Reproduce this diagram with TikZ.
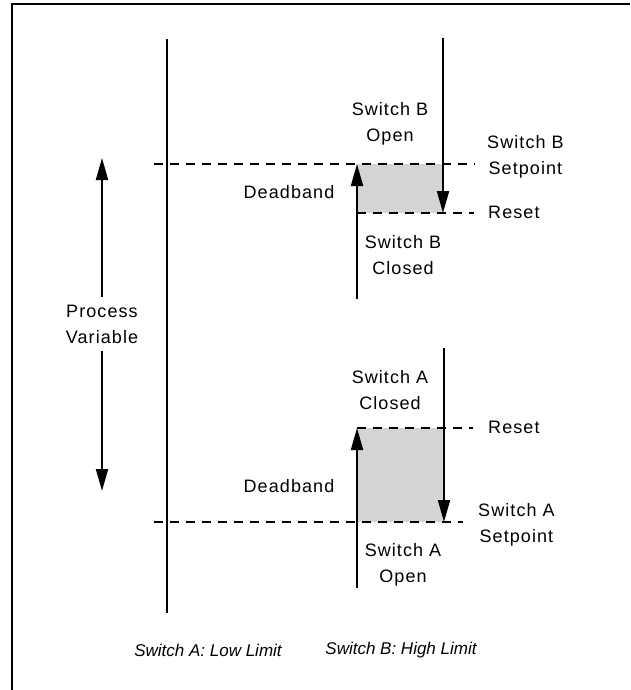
\documentclass[tikz,border=0pt]{standalone}
\usepackage{fontspec}
\setmainfont[LetterSpace=6]{Liberation Sans}
\newfontfamily\notefont{Liberation Sans}
\usetikzlibrary{arrows.meta}
\definecolor{BandFill}{HTML}{D4D4D4}
\tikzset{>={Triangle[length=22pt,width=12pt]},every node/.style={font=\fontsize{18}{26}\selectfont},
 rail/.style={line width=2pt},limit/.style={line width=2pt,dash pattern=on 9pt off 7pt},
 band/.style={fill=BandFill},lbl/.style={align=center,inner sep=0pt},
 note/.style={inner sep=0pt,font=\notefont\fontsize{17}{26}\selectfont\itshape}}
\begin{document}
\begin{tikzpicture}[x=1pt,y=-1pt]
\useasboundingbox (0,0) rectangle (630,690);
\draw[line width=2pt] (12,690) -- (12,4) -- (630,4);
\coordinate (top) at (167,39);
\coordinate (bot) at (167,613);
\coordinate (bSetL) at (154,164);
\coordinate (bSetR) at (475,164);
\coordinate (bResL) at (357,213);
\coordinate (bResR) at (474,213);
\coordinate (bUpS) at (357,299);
\coordinate (bUpE) at (357,164);
\coordinate (bDnS) at (443,38);
\coordinate (bDnE) at (443,213);
\coordinate (aResL) at (357,428);
\coordinate (aResR) at (473,428);
\coordinate (aSetL) at (154,522);
\coordinate (aSetR) at (463,522);
\coordinate (aUpS) at (357,588);
\coordinate (aUpE) at (357,428);
\coordinate (aDnS) at (444,348);
\coordinate (aDnE) at (444,522);
\fill[band] (bUpE) rectangle (bDnE);
\fill[band] (aUpE) rectangle (aDnE);
\draw[rail] (top) -- (bot);
\draw[limit] (bSetL) -- (bSetR);
\draw[limit] (bResL) -- (bResR);
\draw[limit] (aResL) -- (aResR);
\draw[limit] (aSetL) -- (aSetR);
\draw[rail,->] (bUpS) -- (bUpE);
\draw[rail,->] (bDnS) -- (bDnE);
\draw[rail,->] (aUpS) -- (aUpE);
\draw[rail,->] (aDnS) -- (aDnE);
\node[lbl] (pv) at (102,324) {Process\\Variable};
\coordinate (pvTop) at (102,158);
\coordinate (pvBot) at (102,491);
\draw[rail,->] (pv.north) ++(0,-8) coordinate (pvN) (pvN) -- (pvTop);
\draw[rail,->] (pv.south) ++(0,8) coordinate (pvS) (pvS) -- (pvBot);
\node[lbl] (bOpen) at (390,124) {Switch B\\Open};
\node[lbl,anchor=west] (bSet) at (487,157) {Switch B\\Setpoint};
\node[lbl,anchor=west] (bRes) at (488,212) {Reset};
\node[lbl] (bDead) at (289,192) {Deadband};
\node[lbl] (bClosed) at (403,255) {Switch B\\Closed};
\node[lbl] (aClosed) at (390,390) {Switch A\\Closed};
\node[lbl,anchor=west] (aRes) at (488,427) {Reset};
\node[lbl] (aDead) at (289,486) {Deadband};
\node[lbl,anchor=west] (aSet) at (478,525) {Switch A\\Setpoint};
\node[lbl] (aOpen) at (403,565) {Switch A\\Open};
\node[note] (lowLim) at (208,650) {Switch A: Low Limit};
\node[note] (highLim) at (401,650) {Switch B: High Limit};
\end{tikzpicture}
\end{document}
